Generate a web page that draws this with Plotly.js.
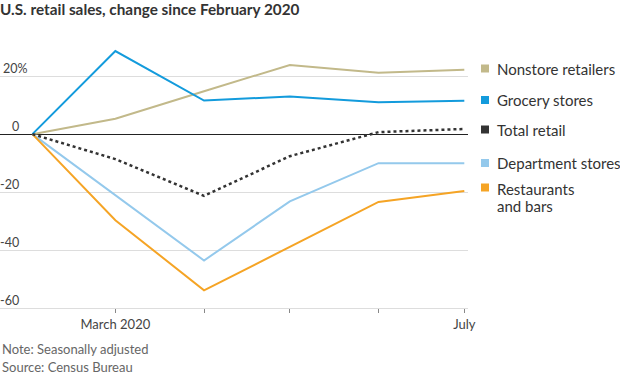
<!DOCTYPE html>
<html>
<head>
<meta charset="utf-8">
<script src="https://cdn.plot.ly/plotly-3.0.1.min.js"></script>
<style>
html,body{margin:0;padding:0;background:#fff;}
#chart{width:620px;height:375px;}
</style>
</head>
<body>
<div id="chart"></div>
<script>
// ---- data ----
const months = ['2020-02-01','2020-03-01','2020-04-01','2020-05-01','2020-06-01','2020-07-01'];
const seriesNames = ['Nonstore retailers','Grocery stores','Total retail','Department stores','Restaurants<br>and bars'];
const nonstore    = [0, 5.3, 14.8, 23.9, 21.2, 22.2];
const grocery     = [0, 28.7, 11.6, 13.0, 11.0, 11.5];
const totalRetail = [0, -8.6, -21.3, -7.6, 0.7, 1.8];
const department  = [0, -21.1, -43.6, -23.2, -10.0, -10.0];
const restaurants = [0, -29.7, -53.9, -39.0, -23.4, -19.6];
const yTickVals = [-60, -40, -20, 0, 20];
const yTickText = ['-60', '-40', '-20', '0', '20%'];
const xTickVals = ['2020-03-01','2020-04-01','2020-05-01','2020-06-01','2020-07-01'];
const xTickText = ['March 2020', '', '', '', 'July'];

// ---- styles ----
const colors = ['#c2b98a', '#139bdc', '#333333', '#94c9ec', '#f5a425'];
const values = [nonstore, grocery, totalRetail, department, restaurants];
const dashes = ['solid', 'solid', 'dot', 'solid', 'solid'];
const widths = [2, 2, 2.5, 2, 2];
const FONT = 'Lato, "Noto Sans", sans-serif';

const order = [3, 4, 0, 1, 2];
const traces = order.map(i => ({
  type: 'scatter', mode: 'lines', x: months, y: values[i],
  name: seriesNames[i].replace('<br>', ' '), showlegend: false, hoverinfo: 'skip',
  line: {color: colors[i], width: widths[i], dash: dashes[i]}
}));

const plotTop = 40, plotBottom = 308, plotWidth = 468;
const legendCenters = [68.5, 100, 129.5, 163, 188.5];
const legendLineGap = 17.5;
const toPaper = py => (plotBottom - py) / (plotBottom - plotTop);

const annotations = [];
const shapes = [];
seriesNames.forEach((n, i) => {
  const lines = n.split('<br>');
  lines.forEach((t, k) => {
    annotations.push({
      xref: 'paper', yref: 'paper', x: 495 / plotWidth,
      y: toPaper(legendCenters[i] + k * legendLineGap),
      xanchor: 'left', yanchor: 'middle', align: 'left',
      text: t, showarrow: false,
      font: {family: FONT, size: 15, color: '#333'}
    });
  });
  shapes.push({
    type: 'rect', xref: 'paper', yref: 'paper',
    xsizemode: 'pixel', ysizemode: 'pixel',
    xanchor: 481 / plotWidth, yanchor: toPaper(legendCenters[i] - (lines.length > 1 ? 1 : 0)),
    x0: 0, x1: 8, y0: -4, y1: 4,
    fillcolor: colors[i], line: {width: 0}
  });
});

// y tick labels: right-aligned numbers sitting above their gridlines, '%' hanging past the edge
yTickVals.forEach((v, i) => {
  const t = yTickText[i];
  const hang = t.endsWith('%') ? 9 : 0;
  annotations.push({
    xref: 'paper', yref: 'y', x: 20 / plotWidth, y: v, yshift: 8, xshift: hang,
    xanchor: 'right', yanchor: 'middle', text: t, showarrow: false, borderpad: 0,
    font: {family: FONT, size: 12.5, color: '#444'}
  });
});

annotations.push({
  xref: 'paper', yref: 'paper', x: 0, y: toPaper(349), xanchor: 'left', yanchor: 'middle',
  text: 'Note: Seasonally adjusted', showarrow: false,
  font: {family: FONT, size: 13, color: '#666'}
});
annotations.push({
  xref: 'paper', yref: 'paper', x: 0, y: toPaper(367), xanchor: 'left', yanchor: 'middle',
  text: 'Source: Census Bureau', showarrow: false,
  font: {family: FONT, size: 13, color: '#666'}
});

const layout = {
  width: 620, height: 375,
  margin: {l: 0, r: 620 - plotWidth, t: plotTop, b: 375 - plotBottom, pad: 0},
  paper_bgcolor: '#fff', plot_bgcolor: '#fff',
  showlegend: false,
  title: {
    text: '<b>U.S. retail sales, change since February 2020</b>',
    x: 0, xanchor: 'left', xref: 'container',
    y: 1 - 10 / 375, yanchor: 'middle', yref: 'container',
    font: {family: FONT, size: 15.3, color: '#333'}
  },
  xaxis: {
    type: 'date',
    range: ['2020-01-20 16:00', '2020-07-02 07:00'],
    tickmode: 'array', tickvals: xTickVals, ticktext: xTickText,
    ticks: 'outside', ticklen: 4, tickcolor: '#888', tickwidth: 1,
    showgrid: false, zeroline: false,
    showline: true, linecolor: '#dddddd', linewidth: 1,
    tickfont: {family: FONT, size: 13, color: '#444'},
    fixedrange: true
  },
  yaxis: {
    range: [-60, 32.5],
    tickmode: 'array', tickvals: yTickVals,
    showticklabels: false,
    ticks: '', showgrid: true, gridcolor: '#dddddd', gridwidth: 1,
    zeroline: true, zerolinecolor: '#222', zerolinewidth: 1,
    showline: false,
    fixedrange: true
  },
  annotations: annotations,
  shapes: shapes
};

Plotly.newPlot('chart', traces, layout, {displayModeBar: false, staticPlot: true});
</script>
</body>
</html>
